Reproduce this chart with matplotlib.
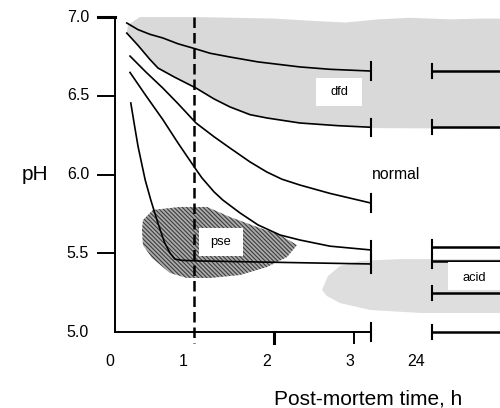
import matplotlib.pyplot as plt
from matplotlib.patches import Polygon, Rectangle

plt.rcParams['font.family'] = ['Liberation Sans', 'DejaVu Sans']
plt.rcParams['hatch.linewidth'] = 0.8

# pH decline curves (time in h, pH)
curve_t = [
    [0.16, 0.3, 0.45, 0.61, 0.8, 1.025, 1.2, 1.45, 1.8, 2.325, 2.7, 3.21],
    [0.16, 0.3, 0.45, 0.55, 0.75, 1.025, 1.25, 1.45, 1.7, 1.91, 2.325, 2.8, 3.21],
    [0.2, 0.4, 0.61, 0.8, 1.025, 1.25, 1.45, 1.7, 1.91, 2.1, 2.325, 2.7, 3.21],
    [0.2, 0.4, 0.61, 0.8, 1.025, 1.1, 1.25, 1.36, 1.575, 1.8, 2.075, 2.325, 2.7, 3.21],
    [0.21, 0.26, 0.3, 0.35, 0.39, 0.46, 0.55, 0.63, 0.7, 0.76, 0.85, 1.08, 3.21],
]
curve_ph = [
    [6.962, 6.92, 6.89, 6.867, 6.83, 6.797, 6.77, 6.746, 6.715, 6.683, 6.668, 6.657],
    [6.898, 6.82, 6.73, 6.676, 6.62, 6.549, 6.48, 6.429, 6.38, 6.359, 6.327, 6.31, 6.30],
    [6.752, 6.65, 6.549, 6.45, 6.327, 6.24, 6.168, 6.08, 6.016, 5.97, 5.933, 5.88, 5.819],
    [6.648, 6.50, 6.349, 6.20, 6.032, 5.978, 5.89, 5.838, 5.756, 5.68, 5.616, 5.584, 5.545, 5.521],
    [6.454, 6.30, 6.18, 6.06, 5.965, 5.838, 5.69, 5.57, 5.502, 5.463, 5.455, 5.451, 5.432],
]
# pH levels at 24 h
ph_24h = [6.657, 6.30, 5.54, 5.451, 5.248]

# quality zones
dfd_t = [0.325, 1.0, 1.5, 2.0, 2.5, 2.9, 3.3, 3.7, 4.2, 4.6, 4.9, 4.9, 3.21]
dfd_ph = [7.0, 7.0, 6.995, 6.99, 6.975, 6.965, 6.985, 6.995, 6.985, 6.99, 6.99, 6.29, 6.295]
pse_t = [0.4875, 0.825, 1.1625, 1.45, 1.7875, 2.075, 2.2875, 2.1625, 1.9125,
         1.575, 1.2, 0.9125, 0.7, 0.475, 0.3625, 0.35, 0.3625]
pse_ph = [5.775, 5.794, 5.794, 5.730, 5.667, 5.616, 5.552, 5.476, 5.413,
          5.362, 5.343, 5.343, 5.375, 5.470, 5.552, 5.648, 5.711]
acid_t = [2.6, 2.675, 2.825, 3.075, 3.575, 4.9, 4.9, 3.825, 3.2, 2.825, 2.66]
acid_ph = [5.267, 5.356, 5.419, 5.451, 5.463, 5.463, 5.121, 5.121, 5.14, 5.184, 5.229]

yticks = [7.0, 6.5, 6.0, 5.5, 5.0]
ytick_labels = ['7.0', '6.5', '6.0', '5.5', '5.0']
xtick_labels = ['0', '1', '2', '3', '24']
xtick_pos = [-0.05, 0.86, 1.91, 2.95, 3.775]

t_end = 3.21     # end of the 0-3 h axis
t_24 = 3.975     # where the 24 h section starts
t_right = 4.9

fig = plt.figure(figsize=(5, 4.08), dpi=100)
ax = fig.add_axes([0, 0, 1, 1])
ax.set_xlim(-1.425, 4.825)
ax.set_ylim(4.5175, 7.108)
ax.axis('off')

# zones
dfd_poly = list(zip(dfd_t, dfd_ph)) + list(zip(curve_t[1][::-1], curve_ph[1][::-1])) + [(0.175, 6.95)]
ax.add_patch(Polygon(dfd_poly, closed=True, facecolor='#d9d9d9', edgecolor='none', zorder=1))
ax.add_patch(Polygon(list(zip(acid_t, acid_ph)), closed=True, facecolor='#dedede',
                     edgecolor='none', zorder=1))
ax.add_patch(Polygon(list(zip(pse_t, pse_ph)), closed=True, facecolor='#ababab',
                     edgecolor='#3c3c3c', linewidth=0, hatch='\\' * 8, zorder=1))

# curves with end caps
for t, ph in zip(curve_t, curve_ph):
    ax.plot(t, ph, color='black', lw=1.2, zorder=2)
    ax.plot([t[-1], t[-1]], [ph[-1] - 0.055, ph[-1] + 0.055], color='black', lw=1.5, zorder=2)

# 24 h levels
for ph in ph_24h + [5.0]:
    ax.plot([t_24, t_right], [ph, ph], color='black', lw=1.8, zorder=2)
    ax.plot([t_24, t_24], [ph - 0.045, ph + 0.045], color='black', lw=1.5, zorder=2)

# axes
ax.plot([0.0125, 0.0125], [7.0, 5.0], color='black', lw=1.4, zorder=2)
ax.plot([0.0125, t_end], [5.0, 5.0], color='black', lw=1.4, zorder=2)
ax.plot([t_end, t_end], [4.94, 5.06], color='black', lw=1.5, zorder=2)
for i, y in enumerate(yticks[:-1]):
    ax.plot([-0.2, 0.0125], [y, y], color='black', lw=2.2 if i == 0 else 1.4, zorder=2)
ax.plot([2.0, 2.0], [5.0, 4.93], color='black', lw=2.2, zorder=2)
ax.plot([3.0, 3.0], [5.0, 4.93], color='black', lw=1.4, zorder=2)

# 1 h line
ax.plot([1.0, 1.0], [7.0, 4.93], color='black', lw=1.8, dashes=(4.2, 2.0), zorder=4)

for y, lab in zip(yticks, ytick_labels):
    ax.text(-0.3125, y, lab, ha='right', va='center', fontsize=11.5)
for x, lab in zip(xtick_pos, xtick_labels):
    ax.text(x, 4.81, lab, ha='center', va='center', fontsize=11.5)

ax.text(-0.9875, 6.0, 'pH', ha='center', va='center', fontsize=15)
ax.text(3.175, 4.575, 'Post-mortem time, h', ha='center', va='center', fontsize=15)
ax.text(3.525, 5.997, 'normal', ha='center', va='center', fontsize=11.3)

# labelled boxes
boxes = [('dfd', 2.525, 6.435, 3.1, 6.613),
         ('pse', 1.0625, 5.483, 1.6125, 5.660),
         ('acid', 4.175, 5.267, 4.9, 5.444)]
for lab, x0, y0, x1, y1 in boxes:
    ax.add_patch(Rectangle((x0, y0), x1 - x0, y1 - y0, facecolor='white',
                           edgecolor='none', zorder=3))
text_pos = {'dfd': (2.8125, 6.524), 'pse': (1.3375, 5.571), 'acid': (4.5, 5.343)}
for lab, (x, y) in text_pos.items():
    ax.text(x, y, lab, ha='center', va='center', fontsize=9.3, zorder=4)

fig.savefig('out.png', dpi=100)
